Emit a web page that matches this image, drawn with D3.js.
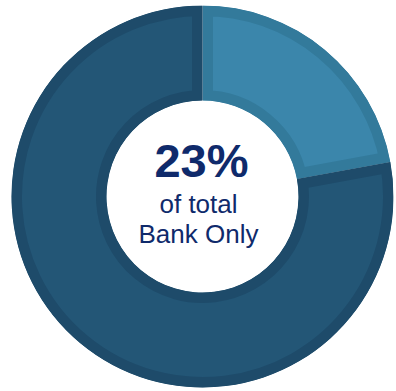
<!DOCTYPE html>
<html>
<head>
<meta charset="utf-8">
<script src="https://d3js.org/d3.v7.min.js"></script>
<style>
  body { margin: 0; background: #fff; }
  svg { display: block; }
</style>
</head>
<body>
<script>
  // Data
  var categories = ['Bank Only', 'Other']
  var values = [22.1, 77.9]
  var fills = ['#3b86ab', '#235676']
  var borders = ['#337a9b', '#1e4b6a']
  var bigLabel = '23%'
  var subLabels = ['of total', 'Bank Only']

  var w = 396
  var h = 391
  var cx = 202.5
  var cy = 196.5
  var outerR = 191
  var innerR = 96

  var svg = d3.select('body').append('svg')
      .attr('width', w)
      .attr('height', h)

  var data = categories.map(function (c, i) { return { name: c, value: values[i], i: i } })

  var pie = d3.pie()
      .value(function (d) { return d.value })
      .sort(null)

  var arc = d3.arc()
      .innerRadius(innerR)
      .outerRadius(outerR)

  var g = svg.append('g')
      .attr('transform', 'translate(' + cx + ',' + cy + ')')

  var defs = svg.append('defs')
  var arcs = pie(data)

  defs.selectAll('clipPath')
      .data(arcs)
      .enter()
    .append('clipPath')
      .attr('id', function (d, i) { return 'clip' + i })
    .append('path')
      .attr('d', arc)

  // slices with an inner border (stroke clipped to the slice)
  g.selectAll('path.slice')
      .data(arcs)
      .enter()
    .append('path')
      .attr('class', 'slice')
      .attr('d', arc)
      .attr('fill', function (d) { return fills[d.data.i] })
      .attr('stroke', function (d) { return borders[d.data.i] })
      .attr('stroke-width', 21)
      .attr('stroke-linejoin', 'miter')
      .attr('clip-path', function (d, i) { return 'url(#clip' + i + ')' })

  // Center labels
  g.append('text')
      .attr('x', -1)
      .attr('y', -19.5)
      .attr('text-anchor', 'middle')
      .style('font-family', 'Liberation Sans, Arial, sans-serif')
      .style('font-weight', 'bold')
      .style('font-size', '47px')
      .style('fill', '#0f2a6b')
      .text(bigLabel)

  g.selectAll('text.sub')
      .data(subLabels)
      .enter()
    .append('text')
      .attr('class', 'sub')
      .attr('x', -4)
      .attr('y', function (d, i) { return 16.5 + i * 30 })
      .attr('text-anchor', 'middle')
      .style('font-family', 'Liberation Sans, Arial, sans-serif')
      .style('font-size', '26px')
      .style('fill', '#0f2a6b')
      .text(function (d) { return d })
</script>
</body>
</html>
